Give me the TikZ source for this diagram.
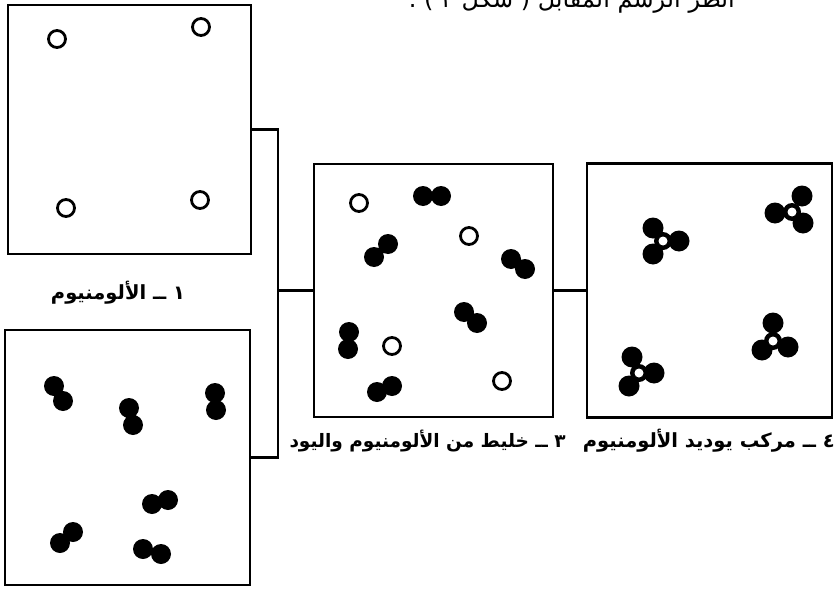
\documentclass[tikz,border=0pt]{standalone}
\usepackage{fontspec}
\newfontfamily\arabicfont[Script=Arabic]{DejaVu Sans}
\TeXXeTstate=1

\begin{document}
\begin{tikzpicture}[x=1pt,y=-1pt,
  panel/.style={draw, line width=2.6pt, inner sep=0pt},
  link/.style={line width=2.2pt},
  caption/.style={font=\arabicfont\bfseries\fontsize{19.5}{22}\selectfont, inner sep=0pt},
  headline/.style={font=\arabicfont\fontsize{24}{26}\selectfont, inner sep=0pt},
  alring/.style={line width=2.8pt},
]
\useasboundingbox (0,0) rectangle (836,589);
\clip (0,0) rectangle (836,589);

% the four panels
\node[panel, minimum width=243pt, minimum height=249pt] (p1) at (129.5,129.5) {};
\node[panel, minimum width=245pt, minimum height=255pt] (p2) at (127.5,457.5) {};
\node[panel, minimum width=239pt, minimum height=253pt] (p3) at (433.5,290.5) {};
\node[panel, minimum width=245pt, minimum height=254pt] (p4) at (709.5,290.5) {};

% bracket joining panels 1 and 2 into panel 3, then panel 3 to panel 4
\coordinate (spine) at (278,290.5);
\draw[link] (p1.east) -- (p1.east -| spine) -- (p2.east -| spine) -- (p2.east);
\draw[link] (spine) -- (p3.west);
\draw[link] (p3.east) -- (p4.west);

% panel 1: aluminium atoms
\foreach \x/\y in {57/39, 201/27, 66/208, 200/200}
  \draw[alring] (\x,\y) circle (8.5);

% panel 2: iodine molecules
\fill (54,386) circle (10) (63,401) circle (10);
\fill (129,408) circle (10) (133,425) circle (10);
\fill (215,393) circle (10) (216,410) circle (10);
\fill (152,504) circle (10) (168,500) circle (10);
\fill (60,543) circle (10) (73,532) circle (10);
\fill (143,549) circle (10) (161,554) circle (10);

% panel 3: mixture of aluminium and iodine
\foreach \x/\y in {359/203, 469/236, 392/346, 502/381}
  \draw[alring] (\x,\y) circle (8.5);
\fill (423,196) circle (10) (441,196) circle (10);
\fill (374,257) circle (10) (388,244) circle (10);
\fill (511,259) circle (10) (525,269) circle (10);
\fill (464,312) circle (10) (477,323) circle (10);
\fill (349,332) circle (10) (348,349) circle (10);
\fill (377,392) circle (10) (392,386) circle (10);

% panel 4: aluminium iodide molecules
\foreach \cx/\cy/\ax/\ay/\bx/\by/\dx/\dy in {
    663/241/653/228/679/241/653/254,
    792/212/802/196/775/213/803/223,
    773/341/773/323/762/350/788/347,
    639/373/632/357/654/373/629/386}{
  \fill (\cx,\cy) circle (9);
  \fill (\ax,\ay) circle (10.5) (\bx,\by) circle (10.5) (\dx,\dy) circle (10.5);
  \fill[white] (\cx,\cy) circle (4.5);
}

% captions
\node[caption] (c1) at (118,293) {\beginR ١ ــ الألومنيوم\endR};
\node[caption, font=\arabicfont\bfseries\fontsize{18.5}{22}\selectfont, anchor=east] (c3) at (566,441) {\beginR ٣ ــ خليط من الألومنيوم واليود\endR};
\node[caption, anchor=east] (c4) at (835,441) {\beginR ٤ ــ مركب يوديد الألومنيوم\endR};

% running text line above
\node[headline, anchor=base east] (head) at (735,7) {\beginR انظر الرسم المقابل ( شكل ٣ ) .\endR};
\end{tikzpicture}
\end{document}
